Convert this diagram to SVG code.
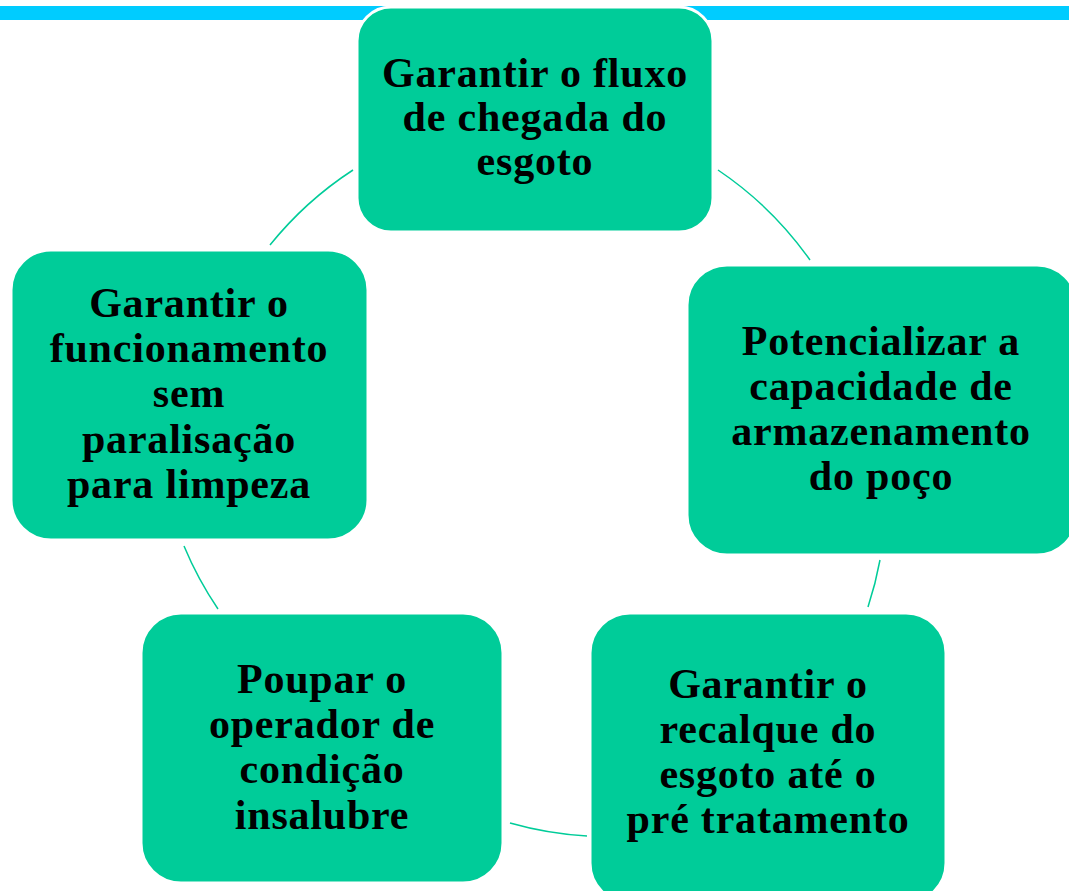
<svg xmlns="http://www.w3.org/2000/svg" width="1069" height="891" viewBox="0 0 1069 891">
<style>
.node{fill:#00CC99;stroke:#FFFFFF;stroke-width:3}
.lbl{font-family:"Liberation Serif","DejaVu Serif",serif;font-weight:bold;font-size:42px;letter-spacing:0.8px;fill:#000000;text-anchor:middle}
.conn{fill:none;stroke:#00CC99;stroke-width:1.5}
</style>
<rect x="0" y="6" width="1069" height="14" fill="#00CCFF"/>
<g id="connectors">
<path class="conn" d="M718,170 A356,356 0 0 1 810,260"/>
<path class="conn" d="M880,560 A356,356 0 0 1 868,607"/>
<path class="conn" d="M587,836 A356,356 0 0 1 510,823"/>
<path class="conn" d="M218,609 A356,356 0 0 1 184,546"/>
<path class="conn" d="M270,245 A356,356 0 0 1 353,170"/>
</g>
<g id="node1">
<rect class="node" x="357" y="7" width="356" height="225" rx="34"/>
<text class="lbl" x="535" y="87">Garantir o fluxo</text>
<text class="lbl" x="535" y="131">de chegada do</text>
<text class="lbl" x="535" y="175">esgoto</text>
</g>
<g id="node2">
<rect class="node" x="687" y="265" width="390" height="290" rx="40"/>
<text class="lbl" x="881" y="355">Potencializar a</text>
<text class="lbl" x="881" y="400">capacidade de</text>
<text class="lbl" x="881" y="445">armazenamento</text>
<text class="lbl" x="881" y="490">do poço</text>
</g>
<g id="node3">
<rect class="node" x="590" y="613" width="356" height="290" rx="40"/>
<text class="lbl" x="768" y="698">Garantir o</text>
<text class="lbl" x="768" y="743">recalque do</text>
<text class="lbl" x="768" y="788">esgoto até o</text>
<text class="lbl" x="768" y="833">pré tratamento</text>
</g>
<g id="node4">
<rect class="node" x="141" y="613" width="362" height="270" rx="40"/>
<text class="lbl" x="322" y="693">Poupar o</text>
<text class="lbl" x="322" y="738">operador de</text>
<text class="lbl" x="322" y="783">condição</text>
<text class="lbl" x="322" y="829">insalubre</text>
</g>
<g id="node5">
<rect class="node" x="11" y="250" width="357" height="290" rx="40"/>
<text class="lbl" x="189" y="317">Garantir o</text>
<text class="lbl" x="189" y="362">funcionamento</text>
<text class="lbl" x="189" y="407">sem</text>
<text class="lbl" x="189" y="453">paralisação</text>
<text class="lbl" x="189" y="498">para limpeza</text>
</g>
</svg>
